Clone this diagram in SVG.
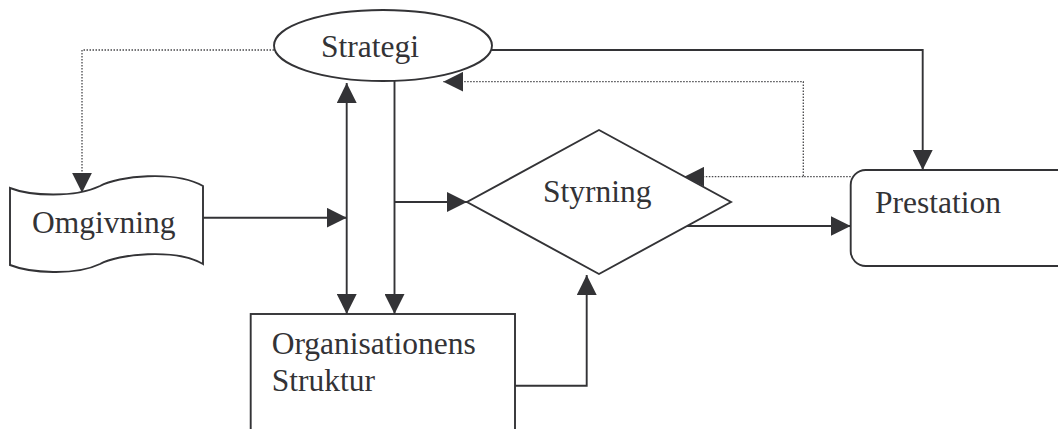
<svg xmlns="http://www.w3.org/2000/svg" width="1058" height="429" viewBox="0 0 1058 429">
<style>
.shape{fill:#fff;stroke:#333336;stroke-width:1.9}
.line{fill:none;stroke:#333336;stroke-width:1.9}
.dot{fill:none;stroke:#48484b;stroke-width:1.3;stroke-dasharray:1.5 1.5}
.lbl{font-family:"Liberation Serif","Times New Roman",serif;font-size:31.5px;fill:#333336}
</style>
<defs>
<marker id="ah" viewBox="0 0 20 20" refX="20" refY="10" markerWidth="20" markerHeight="20" markerUnits="userSpaceOnUse" orient="auto-start-reverse">
<path d="M0,0 L20,10 L0,20 Z" fill="#333336"/>
</marker>
</defs>
<rect width="1058" height="429" fill="#fff"/>
<g id="connectors">
<path class="dot" d="M274,50 H82 V192.7" marker-end="url(#ah)"/>
<path class="dot" d="M850.7,176.7 H803.3 V81.7 H443.3" marker-end="url(#ah)"/>
<path class="dot" d="M803.3,176.7 H684.3" marker-end="url(#ah)"/>
<path class="line" d="M491,50 H922.7 V170" marker-end="url(#ah)"/>
<path class="line" d="M346.7,83 V314" marker-start="url(#ah)" marker-end="url(#ah)"/>
<path class="line" d="M394.5,80.8 V314" marker-end="url(#ah)"/>
<path class="line" d="M394.5,202 H467" marker-end="url(#ah)"/>
<path class="line" d="M203,217.7 H346.7" marker-end="url(#ah)"/>
<path class="line" d="M683.3,226 H850.7" marker-end="url(#ah)"/>
<path class="line" d="M515,385.7 H586.7 V275" marker-end="url(#ah)"/>
</g>
<g id="strategi">
<ellipse class="shape" cx="383" cy="45.5" rx="109" ry="35.5"/>
<text class="lbl" x="321" y="57">Strategi</text>
</g>
<g id="omgivning">
<path class="shape" d="M10,188 C30,196 75,198 100,186 C118,176 175,170 203,186 V264 C175,248 118,254 100,264 C75,276 30,273 10,265 Z"/>
<text class="lbl" x="32" y="233">Omgivning</text>
</g>
<g id="styrning">
<path class="shape" d="M599,130 L731,202 L599,274 L467,202 Z"/>
<text class="lbl" x="543" y="201.5">Styrning</text>
</g>
<g id="prestation">
<rect class="shape" x="850.7" y="170" width="230" height="96" rx="15" ry="15"/>
<text class="lbl" x="875" y="213.3">Prestation</text>
</g>
<g id="struktur">
<rect class="shape" x="250.7" y="314" width="264.3" height="130"/>
<text class="lbl" x="271.7" y="353.5">Organisationens</text>
<text class="lbl" x="271.7" y="390.7">Struktur</text>
</g>
</svg>
